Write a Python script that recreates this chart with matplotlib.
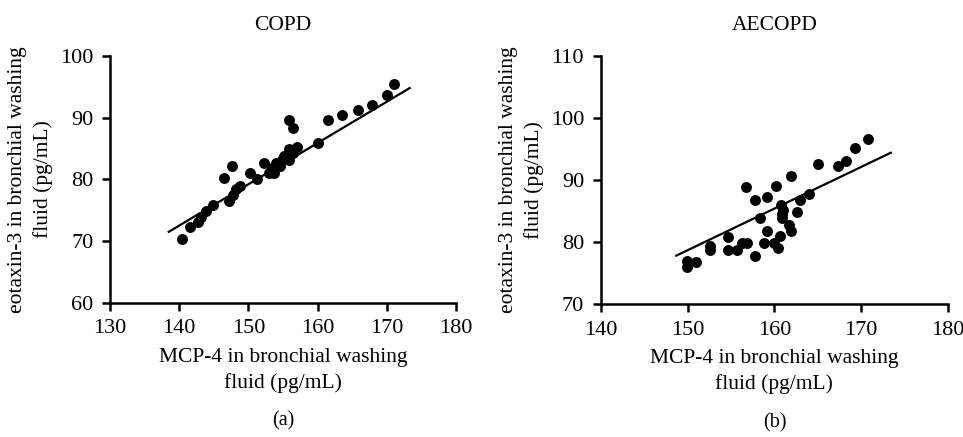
import matplotlib
matplotlib.use('Agg')
import matplotlib.pyplot as plt
import numpy as np

plt.rcParams['font.family'] = ['Liberation Serif', 'DejaVu Serif']

# COPD panel
copd_mcp4 = [140.4, 141.6, 142.7, 143.2, 143.9, 144.9, 146.5, 147.7, 147.2, 147.8,
             148.2, 148.8, 150.3, 151.3, 152.2, 153.0, 153.4, 153.7, 154.0, 154.5,
             154.8, 155.1, 155.8, 155.9, 155.9, 156.5, 157.0, 156.4, 160.1, 161.5,
             163.6, 165.8, 167.8, 170.0, 171.1]
copd_eotaxin = [70.4, 72.3, 73.1, 73.9, 74.9, 75.8, 80.3, 82.1, 76.5, 77.5,
                78.4, 78.9, 81.1, 80.1, 82.6, 81.1, 81.8, 81.0, 82.6, 82.2,
                83.1, 83.8, 83.2, 84.9, 89.6, 88.4, 85.3, 84.2, 85.9, 89.7,
                90.4, 91.2, 92.0, 93.6, 95.5]
copd_fit_x = [138.5, 173.3]
copd_fit_y = [71.5, 94.8]

# AECOPD panel
ae_mcp4 = [149.9, 149.9, 151.0, 152.6, 152.6, 154.6, 154.6, 155.7, 156.3, 156.8,
           156.7, 157.8, 157.8, 158.3, 158.8, 159.2, 159.2, 159.9, 160.2, 160.4,
           160.7, 160.8, 160.9, 160.9, 161.0, 161.7, 161.9, 161.9, 162.6, 163.0,
           164.0, 165.0, 167.3, 168.3, 169.3, 170.8]
ae_eotaxin = [76.9, 75.9, 76.7, 79.4, 78.7, 80.8, 78.7, 78.7, 79.8, 79.8,
              88.8, 77.8, 86.7, 83.8, 79.8, 81.8, 87.2, 79.8, 89.1, 79.0,
              80.9, 85.9, 84.6, 83.8, 85.2, 82.8, 81.8, 90.7, 84.8, 86.8,
              87.8, 92.6, 92.2, 93.1, 95.1, 96.6]
ae_fit_x = [148.7, 173.4]
ae_fit_y = [77.8, 94.4]

xlabel = 'MCP-4 in bronchial washing\nfluid (pg/mL)'
ylabel = 'eotaxin-3 in bronchial washing\nfluid (pg/mL)'

fig = plt.figure(figsize=(9.63, 4.37), dpi=100)


def draw_panel(rect, x, y, fx, fy, xlim, ylim, xticks, yticks, title, tag):
    ax = fig.add_axes(rect)
    ax.scatter(x, y, s=62, color='black', zorder=3, linewidths=0)
    ax.plot(fx, fy, color='black', lw=1.6)
    ax.set_xlim(xlim)
    ax.set_ylim(ylim)
    ax.set_xticks(xticks)
    ax.set_yticks(yticks)
    for s in ['top', 'right']:
        ax.spines[s].set_visible(False)
    for s in ['left', 'bottom']:
        ax.spines[s].set_linewidth(1.8)
    ax.tick_params(width=1.8, length=6, labelsize=16, direction='out', pad=6)
    ax.set_xlabel(xlabel, fontsize=15.5, labelpad=7, linespacing=1.4)
    ax.set_ylabel(ylabel, fontsize=15.5, labelpad=5, linespacing=1.4)
    ax.set_title(title, fontsize=15.5, pad=19)
    ax.text(0.5, -0.48, tag, transform=ax.transAxes, ha='center', va='center', fontsize=14.5)
    return ax


draw_panel([0.1142, 0.3073, 0.3593, 0.5645], copd_mcp4, copd_eotaxin, copd_fit_x, copd_fit_y,
           (130, 180), (60, 100), [130, 140, 150, 160, 170, 180], [60, 70, 80, 90, 100],
           'COPD', '(a)')
draw_panel([0.6238, 0.3043, 0.3607, 0.5675], ae_mcp4, ae_eotaxin, ae_fit_x, ae_fit_y,
           (140, 180), (70, 110), [140, 150, 160, 170, 180], [70, 80, 90, 100, 110],
           'AECOPD', '(b)')

plt.savefig('out.png', dpi=100)
